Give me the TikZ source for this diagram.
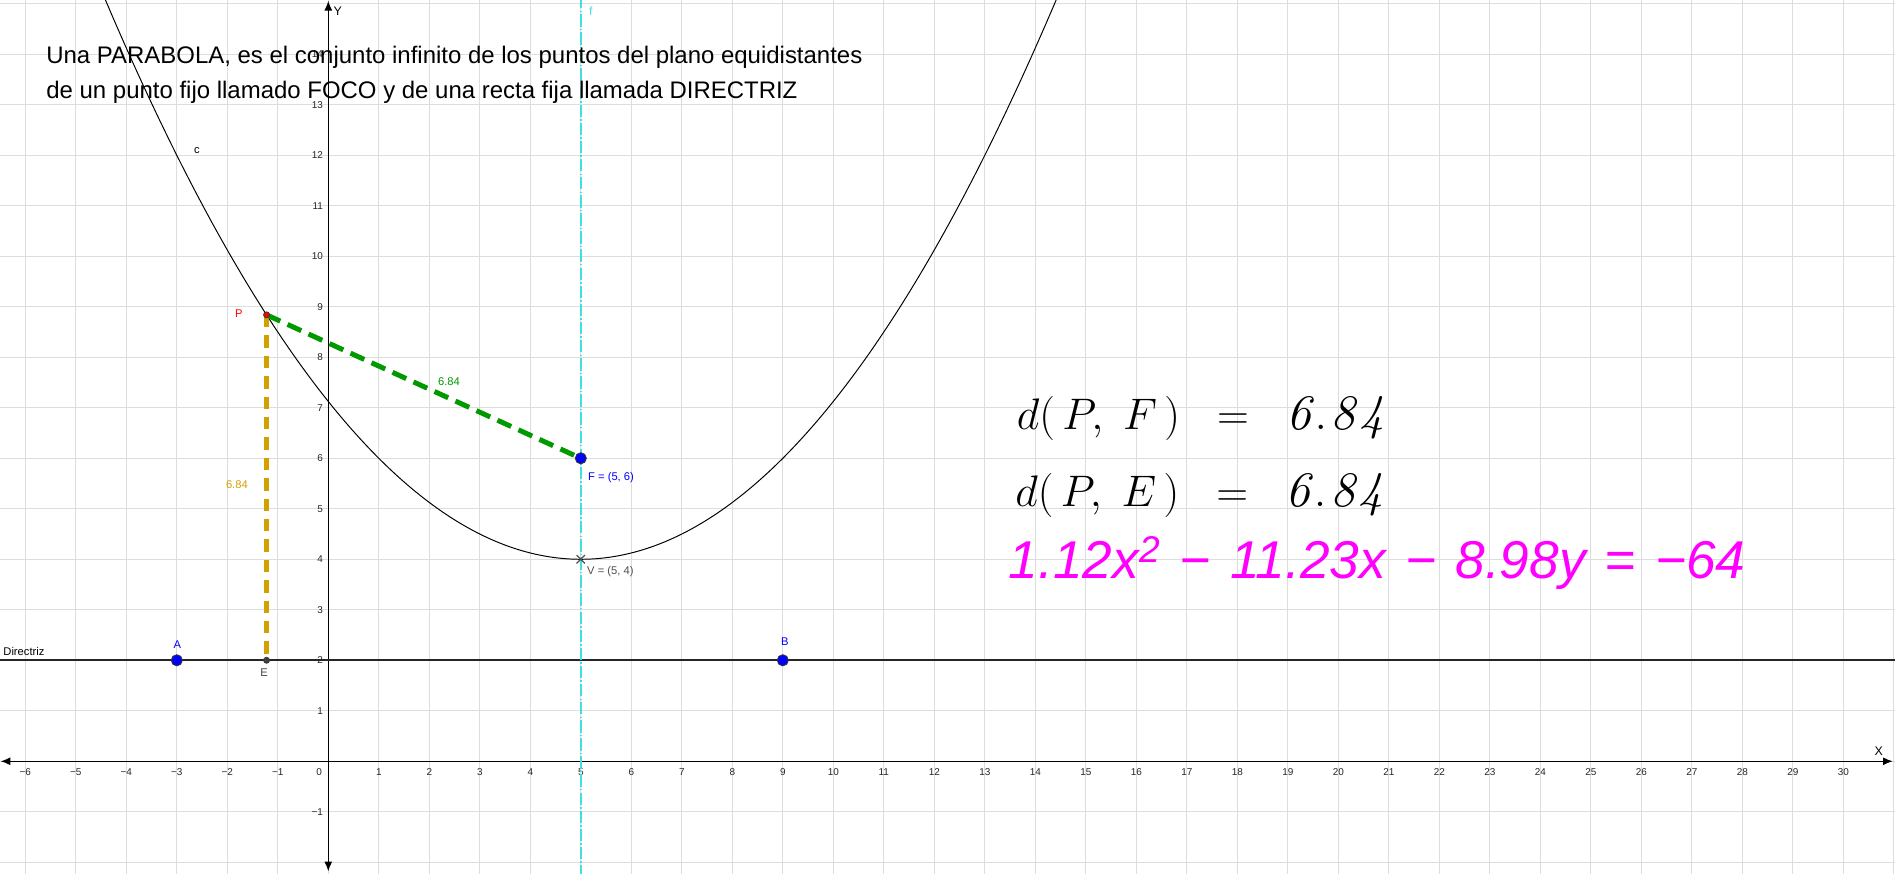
\documentclass[tikz,border=0pt]{standalone}
\usepackage{fontspec}
\newfontfamily\arialf{Liberation Sans}
\usetikzlibrary{arrows.meta,shapes.misc}
\definecolor{gridgray}{RGB}{221,221,221}
\definecolor{ggreen}{RGB}{0,153,0}
\definecolor{ggold}{RGB}{212,160,0}
\definecolor{gcyan}{RGB}{64,224,224}
\definecolor{gblue}{RGB}{0,0,255}
\definecolor{gmag}{RGB}{255,0,255}
\definecolor{dgray}{RGB}{64,64,64}
\definecolor{vgray}{RGB}{80,80,80}
\tikzset{
  gridline/.style={gridgray, line width=0.55pt},
  axisline/.style={black, line width=0.75pt, {Latex[length=5.5pt,width=4.5pt]}-{Latex[length=5.5pt,width=4.5pt]}},
  ticklab/.style={font=\arialf\fontsize{5.6}{6}\selectfont, text=black!85, inner sep=0pt},
  ptlab/.style={font=\arialf\fontsize{6.3}{7}\selectfont, inner sep=0pt},
  bluept/.style={circle, fill=gblue, draw=black!80, line width=0.5pt, inner sep=0pt, minimum size=0.22cm},
  smallpt/.style={circle, draw=black!80, line width=0.4pt, inner sep=0pt, minimum size=0.12cm},
  curve/.style={black, line width=0.55pt},
  maintext/.style={font=\arialf\fontsize{13.5}{16}\selectfont, anchor=base west, inner sep=0pt},
  eqtext/.style={font=\fontsize{28}{32}\selectfont, anchor=base west, inner sep=0pt}
}
\newcommand{\opgap}{\hspace{0.36em}}
\begin{document}
\begin{tikzpicture}[x=1cm,y=1cm]
\useasboundingbox (-6.501,-2.232) rectangle (31.024,15.075);
\clip (-6.501,-2.232) rectangle (31.024,15.075);
\fill[white] (-6.501,-2.232) rectangle (31.024,15.075);
% grid
\foreach \i in {-6,...,31} \draw[gridline] (\i,-2.3) -- (\i,15.1);
\foreach \j in {-2,...,15} \draw[gridline] (-6.6,\j) -- (31.1,\j);
% axes
\coordinate (xl) at (-6.49,0);
\coordinate (xr) at (30.98,0);
\coordinate (yb) at (0,-2.18);
\coordinate (yt) at (0,15.06);
\draw[axisline] (xl) -- (xr);
\draw[axisline] (yb) -- (yt);
\node[ptlab, font=\arialf\fontsize{7}{8}\selectfont] (Xlab) at (30.7,0.19) {X};
\node[ptlab, font=\arialf\fontsize{7}{8}\selectfont] (Ylab) at (0.19,14.86) {Y};
% tick labels
\foreach \i in {1,...,30} \node[ticklab, name=xt\i] at (\i,-0.21) {\i};
\foreach \i in {1,...,6} \node[ticklab, name=xn\i] at (-\i,-0.21) {−\i};
\node[ticklab] (xt0) at (-0.18,-0.21) {0};
\foreach \j in {1,...,14} \node[ticklab, anchor=east, name=yt\j] at (-0.1,\j) {\j};
\node[ticklab, anchor=east] (yn1) at (-0.1,-1) {−1};
% directrix
\coordinate (dl) at (-6.6,2);
\coordinate (dr) at (31.1,2);
\draw[black!85, line width=0.9pt] (dl) -- (dr);
\node[ptlab, anchor=west, text=black] (dirlab) at (-6.44,2.18) {Directriz};
% axis of symmetry f
\coordinate (fb) at (5,-2.3);
\coordinate (ft) at (5,15.1);
\draw[gcyan, line width=0.85pt, dash pattern=on 7pt off 1.2pt on 0.8pt off 1.2pt] (fb) -- (ft);
\node[ptlab, text=gcyan, font=\arialf\fontsize{6.8}{7}\selectfont] (flab) at (5.2,14.86) {f};
% parabola
\draw[curve, domain=-5.2:15.2, samples=240] plot (\x, {4+(\x-5)*(\x-5)/8});
\node[ptlab, text=black] (clab) at (-2.6,12.1) {c};
% key points
\coordinate (P) at (-1.2225,8.84);
\coordinate (E) at (-1.2225,2);
\coordinate (F) at (5,6);
\coordinate (V) at (5,4);
\coordinate (A) at (-3,2);
\coordinate (B) at (9,2);
% segments
\draw[ggold, line width=3.2pt, dash pattern=on 7pt off 4.5pt] (P) -- (E);
\draw[ggreen, line width=2.8pt, dash pattern=on 8.5pt off 4.5pt] (P) -- (F);
\node[ptlab, text=ggreen] (pflab) at (2.39,7.52) {6.84};
\node[ptlab, text=ggold] (pelab) at (-1.81,5.47) {6.84};
% points
\node[bluept] (Fpt) at (F) {};
\node[bluept] (Apt) at (A) {};
\node[bluept] (Bpt) at (B) {};
\node[smallpt, fill=dgray] (Ept) at (E) {};
\node[smallpt, fill=red] (Ppt) at (P) {};
\node[cross out, draw=vgray, line width=0.7pt, inner sep=0pt, minimum size=0.14cm] (Vpt) at (V) {};
% point labels
\node[ptlab, text=red] (Plab) at (-1.77,8.87) {P};
\node[ptlab, text=gblue] (Alab) at (-2.99,2.30) {A};
\node[ptlab, text=gblue] (Blab) at (9.04,2.36) {B};
\node[ptlab, text=dgray] (Elab) at (-1.27,1.75) {E};
\node[ptlab, text=gblue, anchor=west] (Flab) at (5.14,5.62) {F = (5, 6)};
\node[ptlab, text=vgray, anchor=west] (Vlab) at (5.12,3.75) {V = (5, 4)};
% main text
\node[maintext] (t1) at (-5.59,13.82) {Una PARABOLA, es el conjunto infinito de los puntos del plano equidistantes};
\node[maintext] (t2) at (-5.59,13.13) {de un punto fijo llamado FOCO y de una recta fija llamada DIRECTRIZ};
% equations
\node[eqtext] (d1) at (13.63,6.56) {$d(\,P,\;F\,)\hspace{0.5em}=\hspace{0.5em}\mathit{6\hspace{0.08em}.\hspace{0.08em}8\hspace{0.08em}4}$};
\node[eqtext] (d2) at (13.60,5.04) {$d(\,P,\;E\,)\hspace{0.5em}=\hspace{0.5em}\mathit{6\hspace{0.08em}.\hspace{0.08em}8\hspace{0.08em}4}$};
\node[anchor=base west, inner sep=0pt, text=gmag, font=\arialf\itshape\fontsize{30}{34}\selectfont] (eq3) at (13.47,3.62) {1.12x\textsuperscript{2}\opgap−\opgap11.23x\opgap−\opgap8.98y\opgap=\opgap−64};
\end{tikzpicture}
\end{document}
